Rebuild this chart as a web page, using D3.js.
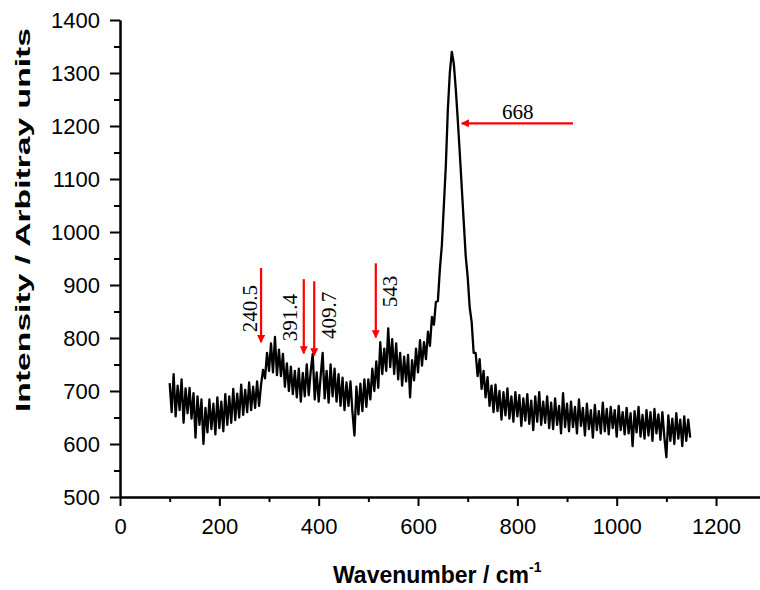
<!DOCTYPE html>
<html>
<head>
<meta charset="utf-8">
<script src="https://cdn.jsdelivr.net/npm/d3@7"></script>
<style>
  body { margin: 0; background: white; }
</style>
</head>
<body>
<div id="canvas"></div>
<script>
"use strict"

// spectrum, every 4 cm-1 from 100 to 1148
let wavenumberStart = 100;
let wavenumberStep = 4;
let intensity = [
    715, 660, 732, 652, 710, 664, 722, 640, 705, 658,   // 100
    706, 648, 696, 612, 690, 636, 684, 600, 668, 622,   // 140
    684, 628, 676, 618, 688, 630, 680, 624, 694, 636,   // 180
    690, 640, 704, 645, 695, 650, 712, 655, 702, 660,   // 220
    716, 664, 708, 668, 718, 672, 712, 740, 724, 772,   // 260
    738, 790, 735, 802, 730, 778, 728, 770, 708, 752,   // 300
    700, 746, 694, 738, 688, 742, 680, 734, 690, 750,   // 340
    692, 738, 770, 684, 735, 680, 728, 772, 686, 738,   // 380
    678, 750, 690, 742, 680, 732, 672, 725, 664, 716,   // 420
    672, 718, 660, 616, 708, 656, 714, 662, 722, 670,   // 460
    722, 684, 742, 700, 756, 706, 792, 732, 780, 738,   // 500
    818, 745, 798, 732, 790, 722, 772, 710, 765, 718,   // 540
    768, 688, 758, 720, 780, 735, 796, 748, 792, 760,   // 580
    812, 785, 840, 825, 868, 870, 930, 975, 1050, 1125, // 620
    1230, 1300, 1340, 1318, 1270, 1212, 1150, 1085, 1020, 955, // 660
    915, 858, 830, 772, 772, 728, 760, 704, 738, 688,   // 700
    726, 672, 710, 660, 712, 662, 700, 646, 698, 654,   // 740
    705, 648, 690, 642, 698, 652, 692, 634, 686, 644,   // 780
    694, 638, 682, 626, 690, 642, 698, 636, 680, 640,   // 820
    690, 630, 678, 628, 686, 636, 672, 620, 696, 632,   // 860
    676, 624, 680, 632, 670, 620, 684, 634, 668, 616,   // 900
    676, 628, 664, 612, 674, 626, 662, 620, 678, 624,   // 940
    666, 618, 670, 630, 664, 614, 672, 626, 660, 618,   // 980
    668, 620, 658, 596, 662, 622, 670, 614, 655, 610,   // 1020
    664, 616, 660, 606, 666, 620, 656, 608, 660, 612,   // 1060
    575, 654, 606, 648, 600, 658, 610, 646, 596, 652,   // 1100
    606, 646, 612                                       // 1140
];

let xTicks = [0, 200, 400, 600, 800, 1000, 1200];
let xMinorTicks = [100, 300, 500, 700, 900, 1100];
let yTicks = [500, 600, 700, 800, 900, 1000, 1100, 1200, 1300, 1400];
let yMinorTicks = [550, 650, 750, 850, 950, 1050, 1150, 1250, 1350];

// peak marks: arrow (x, top, tip) and label (x, y) in data units
let peakLabels = ["240.5", "391.4", "409.7", "543"];
let arrowX = [284, 370, 391, 515];
let arrowTop = [932, 911, 907, 941];
let arrowTip = [792, 771, 767, 801];
let labelX = [276, 356, 435, 558];
let labelY = [811, 794, 798, 858];

// main peak, horizontal arrow
let mainPeakLabel = "668";
let mainArrowFrom = [912, 1205];
let mainArrowTo = [688, 1205];
let mainLabelPos = [769, 1213];

let spectrum = intensity.map(function (d, i) {
    return { x: wavenumberStart + i * wavenumberStep, y: d };
});

let drawing = d3.select("#canvas")
    .append("svg")
    .attr("width", 760)
    .attr("height", 590);

let xScale = d3.scaleLinear()
    .domain([0, 1290])
    .range([120, 120 + 1290 * 0.4967]);

let yScale = d3.scaleLinear()
    .domain([500, 1400])
    .range([497, 20]);

// arrow head
drawing.append("defs")
    .append("marker")
    .attr("id", "head")
    .attr("markerUnits", "userSpaceOnUse")
    .attr("viewBox", "0 0 10 10")
    .attr("refX", 9)
    .attr("refY", 5)
    .attr("markerWidth", 9)
    .attr("markerHeight", 8)
    .attr("orient", "auto")
    .append("path")
    .attr("d", "M0,0 L10,5 L0,10 Z")
    .attr("fill", "red");

// spectrum line
let line = d3.line()
    .x(d => xScale(d.x))
    .y(d => yScale(d.y));

drawing.append("path")
    .datum(spectrum)
    .attr("d", line)
    .attr("fill", "none")
    .attr("stroke", "black")
    .attr("stroke-width", 2.3)
    .attr("stroke-linejoin", "round");

// axes
let xAxis = drawing.append("g")
    .attr("transform", "translate(0," + yScale(500) + ")")
    .call(d3.axisBottom(xScale).tickValues(xTicks).tickFormat(d3.format("d"))
        .tickSize(9).tickPadding(12).tickSizeOuter(0));

let xMinor = drawing.append("g")
    .attr("transform", "translate(0," + yScale(500) + ")")
    .call(d3.axisBottom(xScale).tickValues(xMinorTicks).tickSize(5).tickFormat("").tickSizeOuter(0));

let yAxis = drawing.append("g")
    .attr("transform", "translate(" + xScale(0) + ",0)")
    .call(d3.axisLeft(yScale).tickValues(yTicks).tickFormat(d3.format("d"))
        .tickSize(10).tickPadding(10).tickSizeOuter(0));

let yMinor = drawing.append("g")
    .attr("transform", "translate(" + xScale(0) + ",0)")
    .call(d3.axisLeft(yScale).tickValues(yMinorTicks).tickSize(6).tickFormat("").tickSizeOuter(0));

drawing.selectAll(".domain, .tick line")
    .attr("stroke", "black")
    .attr("stroke-width", 2);

drawing.selectAll(".tick text")
    .attr("font-family", "'Liberation Sans', Arial, sans-serif")
    .attr("font-size", 22)
    .attr("fill", "black");

// axis titles
drawing.append("text")
    .attr("transform", "translate(30,220) rotate(-90)")
    .attr("text-anchor", "middle")
    .attr("font-family", "'Liberation Sans', Arial, sans-serif")
    .attr("font-weight", "bold")
    .attr("font-size", 21)
    .attr("textLength", 384)
    .attr("lengthAdjust", "spacingAndGlyphs")
    .text("Intensity / Arbitray units");

let xTitle = drawing.append("text")
    .attr("x", 333)
    .attr("y", 583)
    .attr("font-family", "'Liberation Sans', Arial, sans-serif")
    .attr("font-weight", "bold")
    .attr("font-size", 23);

xTitle.append("tspan")
    .text("Wavenumber / cm");

xTitle.append("tspan")
    .attr("dy", -11)
    .attr("font-size", 14)
    .text("-1");

// peak arrows and labels
peakLabels.forEach(function (label, i) {
    drawing.append("line")
        .attr("x1", xScale(arrowX[i]))
        .attr("y1", yScale(arrowTop[i]))
        .attr("x2", xScale(arrowX[i]))
        .attr("y2", yScale(arrowTip[i]))
        .attr("stroke", "red")
        .attr("stroke-width", 2.2)
        .attr("marker-end", "url(#head)");

    drawing.append("text")
        .attr("transform", "translate(" + xScale(labelX[i]) + "," + yScale(labelY[i]) + ") rotate(-90)")
        .attr("font-family", "'Liberation Serif', 'Times New Roman', serif")
        .attr("font-size", 21)
        .attr("fill", "black")
        .text(label);
});

drawing.append("line")
    .attr("x1", xScale(mainArrowFrom[0]))
    .attr("y1", yScale(mainArrowFrom[1]))
    .attr("x2", xScale(mainArrowTo[0]))
    .attr("y2", yScale(mainArrowTo[1]))
    .attr("stroke", "red")
    .attr("stroke-width", 2.2)
    .attr("marker-end", "url(#head)");

drawing.append("text")
    .attr("x", xScale(mainLabelPos[0]))
    .attr("y", yScale(mainLabelPos[1]))
    .attr("font-family", "'Liberation Serif', 'Times New Roman', serif")
    .attr("font-size", 21)
    .attr("fill", "black")
    .text(mainPeakLabel);
</script>
</body>
</html>
